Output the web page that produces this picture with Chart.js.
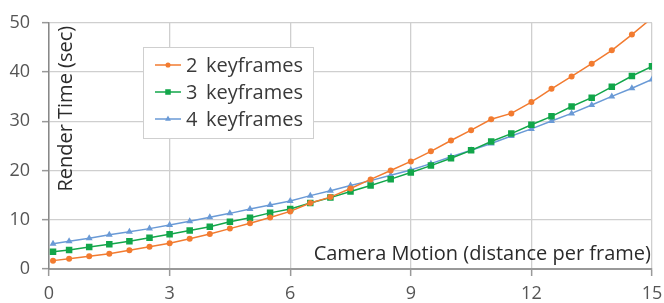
<!DOCTYPE html>
<html>
<head>
<meta charset="utf-8">
<script src="https://cdn.jsdelivr.net/npm/chart.js@4.4.1/dist/chart.umd.min.js"></script>
<style>
html,body{margin:0;padding:0;background:#fff;}
#wrap{width:664px;height:303px;position:relative;}
</style>
</head>
<body>
<div id="wrap"><canvas id="c" width="664" height="303"></canvas></div>
<script>
const xValues = [0.1,0.5,1,1.5,2,2.5,3,3.5,4,4.5,5,5.5,6,6.5,7,7.5,8,8.5,9,9.5,10,10.5,11,11.5,12,12.5,13,13.5,14,14.5,15];
const kf2 = [1.7,2.1,2.6,3.1,3.8,4.5,5.25,6.15,7.1,8.2,9.3,10.45,11.7,13.4,14.6,16.35,18.2,20.0,21.85,23.9,26.1,28.2,30.4,31.6,33.9,36.6,39.1,41.7,44.4,47.6,51.0];
const kf3 = [3.5,3.85,4.45,5.05,5.65,6.35,7.05,7.8,8.6,9.6,10.4,11.4,12.2,13.4,14.5,15.75,16.95,18.25,19.6,21.0,22.5,24.1,25.9,27.5,29.3,31.0,33.0,34.8,37.0,39.2,41.15];
const kf4 = [5.15,5.65,6.25,6.95,7.55,8.2,8.95,9.7,10.5,11.3,12.2,13.0,13.8,14.9,15.9,16.95,17.95,19.05,20.1,21.4,22.8,24.1,25.5,27.0,28.45,30.05,31.6,33.3,35.05,36.7,38.5];
const seriesNames = ["2 keyframes","3 keyframes","4 keyframes"];
const xTitle = "Camera Motion (distance per frame)";
const yTitle = "Render Time (sec)";

const colors = ["#F27B30","#12A64A","#6A9AD6"];
const styles = ["circle","rect","triangle"];
const radii = [3,4.6,4];

function pts(arr){ return xValues.map((x,i)=>({x:x,y:arr[i]})); }

const FONT = "'Open Sans', sans-serif";

function drawMarker(ctx, style, x, y, r, color){
  ctx.save();
  ctx.fillStyle = color;
  ctx.beginPath();
  if(style==="circle"){ ctx.arc(x,y,r,0,Math.PI*2); }
  else if(style==="rect"){ const s=Math.SQRT1_2*r; ctx.rect(x-s,y-s,2*s,2*s); }
  else { ctx.moveTo(x, y - r); ctx.lineTo(x + r*0.866, y + r*0.5); ctx.lineTo(x - r*0.866, y + r*0.5); ctx.closePath(); }
  ctx.fill();
  ctx.restore();
}

const overlay = {
  id:'overlay',
  afterDatasetsDraw(chart){
    const ctx = chart.ctx;
    const ca = chart.chartArea;
    ctx.save();
    ctx.fillStyle = "#2b2b2b";
    ctx.font = "20px " + FONT;
    ctx.textAlign = "right";
    ctx.textBaseline = "alphabetic";
    ctx.fillText(xTitle, ca.right - 1, ca.bottom - 9);
    ctx.save();
    ctx.translate(ca.left + 23, ca.top + 3);
    ctx.rotate(-Math.PI/2);
    ctx.textAlign = "right";
    ctx.fillText(yTitle, 0, 0);
    ctx.restore();
    const bx=143.5, by=47.5, bw=170, bh=91;
    ctx.fillStyle="#fff";
    ctx.fillRect(bx,by,bw,bh);
    ctx.strokeStyle="#cfcfcf";
    ctx.lineWidth=1;
    ctx.strokeRect(bx,by,bw,bh);
    const rows=[65,92,119];
    for(let i=0;i<3;i++){
      const y=rows[i];
      ctx.strokeStyle=colors[i];
      ctx.lineWidth=1.5;
      ctx.beginPath(); ctx.moveTo(155,y); ctx.lineTo(181,y); ctx.stroke();
      drawMarker(ctx, styles[i], 168, y, radii[i]*0.85, colors[i]);
      ctx.fillStyle="#3a3a3a";
      ctx.font="20px " + FONT;
      ctx.textAlign="left";
      ctx.textBaseline="middle";
      ctx.fillText(seriesNames[i].replace(" ", "\u2009 "), 186, y+1);
    }
    ctx.restore();
  }
};

new Chart(document.getElementById('c'), {
  type:'line',
  data:{
    datasets:[kf2,kf3,kf4].map((arr,i)=>({
      label: seriesNames[i],
      data: pts(arr),
      borderColor: colors[i],
      backgroundColor: colors[i],
      borderWidth: 1.5,
      pointStyle: styles[i],
      pointRadius: radii[i],
      pointBorderWidth: 0,
      pointBackgroundColor: colors[i],
      tension: 0,
      fill: false
    }))
  },
  options:{
    responsive:false,
    animation:false,
    devicePixelRatio:1,
    layout:{padding:{top:17,right:0,left:0,bottom:0}},
    plugins:{legend:{display:false},tooltip:{enabled:false},title:{display:false}},
    scales:{
      x:{
        type:'linear', min:0, max:15,
        ticks:{stepSize:3, color:'#555', font:{family:FONT,size:18}, padding:7, maxRotation:0},
        grid:{color:'#cfcfcf', lineWidth:1.3, borderDash:[7,5], tickBorderDash:[], tickColor:'#999', tickLength:7, tickWidth:1.5},
        border:{display:true, color:'#999', width:2},
        afterFit(s){ s.height = 34; s.paddingRight = 12; }
      },
      y:{
        type:'linear', min:0, max:50,
        ticks:{stepSize:10, color:'#555', font:{family:FONT,size:18}, padding:12},
        grid:{color:'#cfcfcf', lineWidth:1.3, borderDash:[7,5], tickBorderDash:[], tickColor:'#999', tickLength:7, tickWidth:1.5},
        border:{display:true, color:'#888', width:1.5},
        afterFit(s){ s.width = 49; }
      }
    }
  },
  plugins:[overlay]
});
</script>
</body>
</html>
